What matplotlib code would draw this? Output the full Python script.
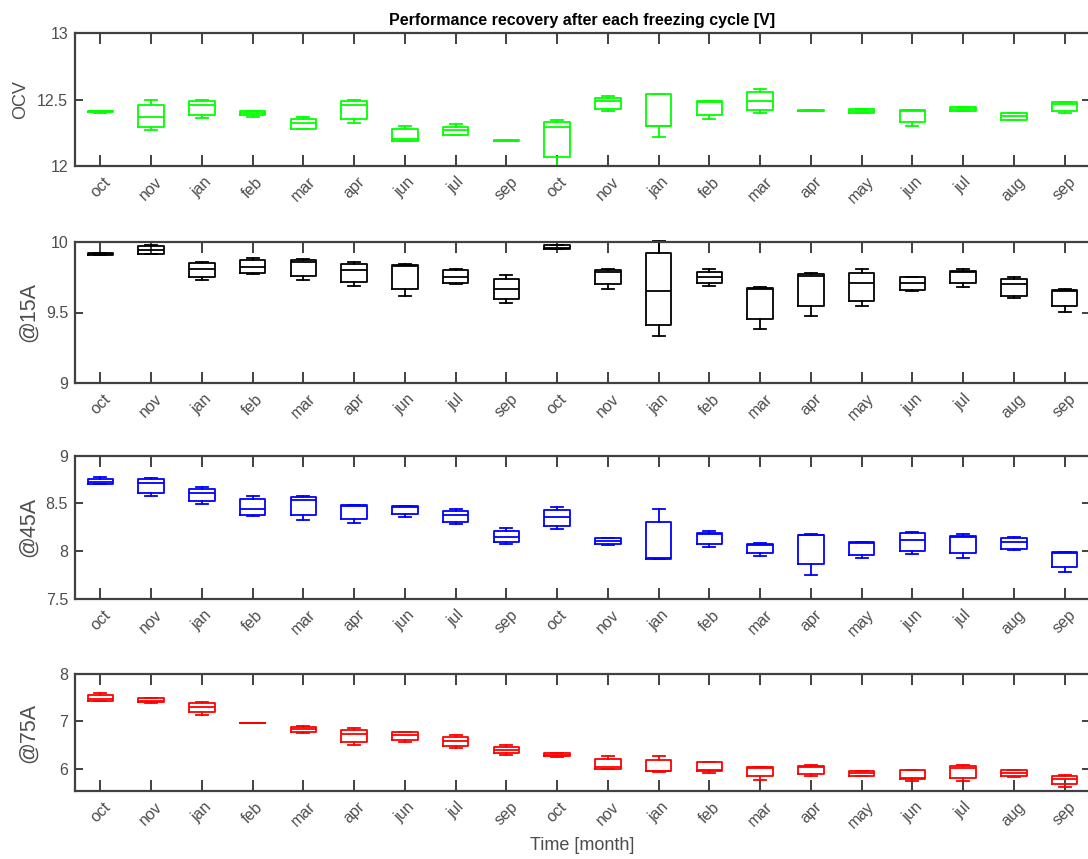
import matplotlib
matplotlib.use("Agg")
import matplotlib.pyplot as plt
from matplotlib.ticker import FuncFormatter

plt.rcParams['font.family'] = ['Liberation Sans', 'DejaVu Sans']

months = ['oct', 'nov', 'jan', 'feb', 'mar', 'apr', 'jun', 'jul', 'sep', 'oct',
          'nov', 'jan', 'feb', 'mar', 'apr', 'may', 'jun', 'jul', 'aug', 'sep']

# open circuit voltage
ocv_lo = [12.40, 12.27, 12.36, 12.37, 12.275, 12.32, 12.19, 12.23, 12.19, 12.00,
          12.41, 12.22, 12.35, 12.40, 12.41, 12.395, 12.30, 12.41, 12.345, 12.40]
ocv_q1 = [12.405, 12.29, 12.385, 12.38, 12.28, 12.35, 12.19, 12.235, 12.19, 12.07,
          12.43, 12.30, 12.385, 12.42, 12.41, 12.395, 12.33, 12.41, 12.345, 12.415]
ocv_med = [12.41, 12.37, 12.46, 12.40, 12.32, 12.455, 12.20, 12.27, 12.19, 12.29,
           12.49, 12.30, 12.48, 12.49, 12.415, 12.41, 12.41, 12.43, 12.375, 12.465]
ocv_q3 = [12.415, 12.46, 12.49, 12.41, 12.355, 12.49, 12.275, 12.295, 12.195, 12.33,
          12.51, 12.54, 12.485, 12.56, 12.42, 12.43, 12.42, 12.44, 12.40, 12.48]
ocv_hi = [12.415, 12.495, 12.495, 12.41, 12.37, 12.495, 12.30, 12.315, 12.195, 12.345,
          12.525, 12.54, 12.485, 12.58, 12.42, 12.43, 12.42, 12.44, 12.40, 12.48]

# voltage at 15 A
a15_lo = [9.91, 9.915, 9.73, 9.77, 9.73, 9.69, 9.62, 9.70, 9.57, 9.95,
          9.67, 9.33, 9.69, 9.385, 9.475, 9.545, 9.655, 9.68, 9.60, 9.505]
a15_q1 = [9.91, 9.915, 9.75, 9.78, 9.76, 9.715, 9.665, 9.71, 9.595, 9.95,
          9.70, 9.41, 9.71, 9.455, 9.545, 9.585, 9.66, 9.71, 9.62, 9.545]
a15_med = [9.915, 9.94, 9.805, 9.82, 9.86, 9.80, 9.83, 9.755, 9.67, 9.96,
           9.79, 9.65, 9.75, 9.67, 9.76, 9.71, 9.71, 9.785, 9.70, 9.655]
a15_q3 = [9.92, 9.97, 9.85, 9.87, 9.875, 9.845, 9.84, 9.80, 9.74, 9.98,
          9.80, 9.925, 9.79, 9.675, 9.77, 9.78, 9.75, 9.795, 9.74, 9.66]
a15_hi = [9.92, 9.98, 9.86, 9.89, 9.88, 9.86, 9.845, 9.81, 9.765, 9.98,
          9.805, 10.01, 9.805, 9.68, 9.78, 9.805, 9.755, 9.805, 9.755, 9.665]

# voltage at 45 A
a45_lo = [8.70, 8.573, 8.49, 8.37, 8.327, 8.29, 8.362, 8.28, 8.08, 8.23,
          8.066, 7.92, 8.047, 7.952, 7.75, 7.924, 7.966, 7.93, 8.01, 7.787]
a45_q1 = [8.70, 8.61, 8.523, 8.383, 8.38, 8.334, 8.387, 8.30, 8.092, 8.264,
          8.074, 7.92, 8.078, 7.98, 7.861, 7.963, 8.00, 7.976, 8.022, 7.83]
a45_med = [8.727, 8.716, 8.604, 8.436, 8.54, 8.47, 8.46, 8.376, 8.148, 8.362,
           8.106, 7.925, 8.18, 8.06, 8.17, 8.09, 8.117, 8.15, 8.10, 7.98]
a45_q3 = [8.75, 8.75, 8.653, 8.545, 8.562, 8.478, 8.47, 8.418, 8.215, 8.43,
          8.134, 8.306, 8.194, 8.071, 8.173, 8.096, 8.187, 8.162, 8.138, 7.99]
a45_hi = [8.773, 8.77, 8.674, 8.576, 8.576, 8.48, 8.475, 8.436, 8.24, 8.457,
          8.14, 8.436, 8.208, 8.082, 8.175, 8.10, 8.20, 8.176, 8.152, 7.995]

# voltage at 75 A
a75_lo = [7.424, 7.38, 7.13, 6.97, 6.755, 6.507, 6.564, 6.437, 6.30, 6.25,
          5.99, 5.93, 5.90, 5.77, 5.845, 5.85, 5.75, 5.75, 5.82, 5.62]
a75_q1 = [7.424, 7.403, 7.19, 6.97, 6.775, 6.564, 6.613, 6.48, 6.325, 6.26,
          6.00, 5.945, 5.96, 5.84, 5.895, 5.85, 5.79, 5.80, 5.84, 5.68]
a75_med = [7.47, 7.44, 7.31, 6.97, 6.84, 6.733, 6.71, 6.585, 6.395, 6.29,
           6.03, 5.95, 5.97, 6.01, 6.04, 5.90, 5.80, 6.01, 5.91, 5.775]
a75_q3 = [7.563, 7.487, 7.38, 6.975, 6.887, 6.818, 6.78, 6.676, 6.465, 6.325,
          6.205, 6.19, 6.135, 6.03, 6.065, 5.945, 5.97, 6.05, 5.965, 5.845]
a75_hi = [7.606, 7.49, 7.40, 6.975, 6.91, 6.853, 6.785, 6.705, 6.494, 6.33,
          6.26, 6.275, 6.135, 6.035, 6.07, 5.95, 5.975, 6.07, 5.97, 5.867]

panels = [
    ('OCV', 'lime', (ocv_lo, ocv_q1, ocv_med, ocv_q3, ocv_hi), (12, 13), [12, 12.5, 13]),
    ('@15A', 'black', (a15_lo, a15_q1, a15_med, a15_q3, a15_hi), (9, 10), [9, 9.5, 10]),
    ('@45A', 'blue', (a45_lo, a45_q1, a45_med, a45_q3, a45_hi), (7.5, 9), [7.5, 8, 8.5, 9]),
    ('@75A', 'red', (a75_lo, a75_q1, a75_med, a75_q3, a75_hi), (5.53, 8), [6, 7, 8]),
]

W, H = 1088, 859
fig = plt.figure(figsize=(W / 100, H / 100), dpi=100)

# (top, bottom) of each axes in pixels; right edge runs just past the canvas
rows = [(33, 166), (242, 383), (455.5, 599), (674, 791)]
left_px = 75
right_px = 1090
axis_col = '#404040'
tick_col = '#4d4d4d'

for (label, col, stats_cols, ylim, yticks), (top, bot) in zip(panels, rows):
    ax = fig.add_axes([left_px / W, 1 - bot / H, (right_px - left_px) / W, (bot - top) / H])
    lo, q1, med, q3, hi = stats_cols
    stats = [dict(whislo=a, q1=b, med=c, q3=d, whishi=e, fliers=[])
             for a, b, c, d, e in zip(lo, q1, med, q3, hi)]
    lp = dict(color=col, linewidth=1.3)
    ax.bxp(stats, positions=range(1, len(stats) + 1), widths=0.5, capwidths=0.24,
           showfliers=False, boxprops=lp, medianprops=lp, whiskerprops=lp,
           capprops=lp, manage_ticks=False)
    ax.set_xlim(0.5, 20.5)
    ax.set_ylim(*ylim)
    ax.set_yticks(yticks)
    ax.yaxis.set_major_formatter(FuncFormatter(lambda v, p: '%g' % v))
    ax.set_xticks(range(1, 21))
    ax.set_xticklabels(months, rotation=45, ha='center', va='top')
    ax.tick_params(axis='x', direction='in', length=8, width=1.4, top=True,
                   colors=axis_col, labelcolor=tick_col, labelsize=11.5, pad=6)
    ax.tick_params(axis='y', direction='in', length=6, width=1.4, right=True,
                   colors=axis_col, labelcolor=tick_col, labelsize=11.5, pad=5)
    for sp in ax.spines.values():
        sp.set_color(axis_col)
        sp.set_linewidth(1.6)
    for art in ax.lines + ax.patches:
        art.set_clip_on(False)
    if label == 'OCV':
        ax.set_ylabel(label, fontsize=13, color=tick_col)
        ax.yaxis.set_label_coords(-0.045, 0.5)
        ax.set_title('Performance recovery after each freezing cycle [V]',
                     fontsize=11.5, fontweight='bold', pad=6)
    else:
        ax.set_ylabel(label, fontsize=15.5, color=tick_col)
        ax.yaxis.set_label_coords(-0.036, 0.5)
    if label == '@75A':
        ax.set_xlabel('Time [month]', fontsize=13, color=tick_col, labelpad=4)

fig.savefig('out.png', dpi=100)
